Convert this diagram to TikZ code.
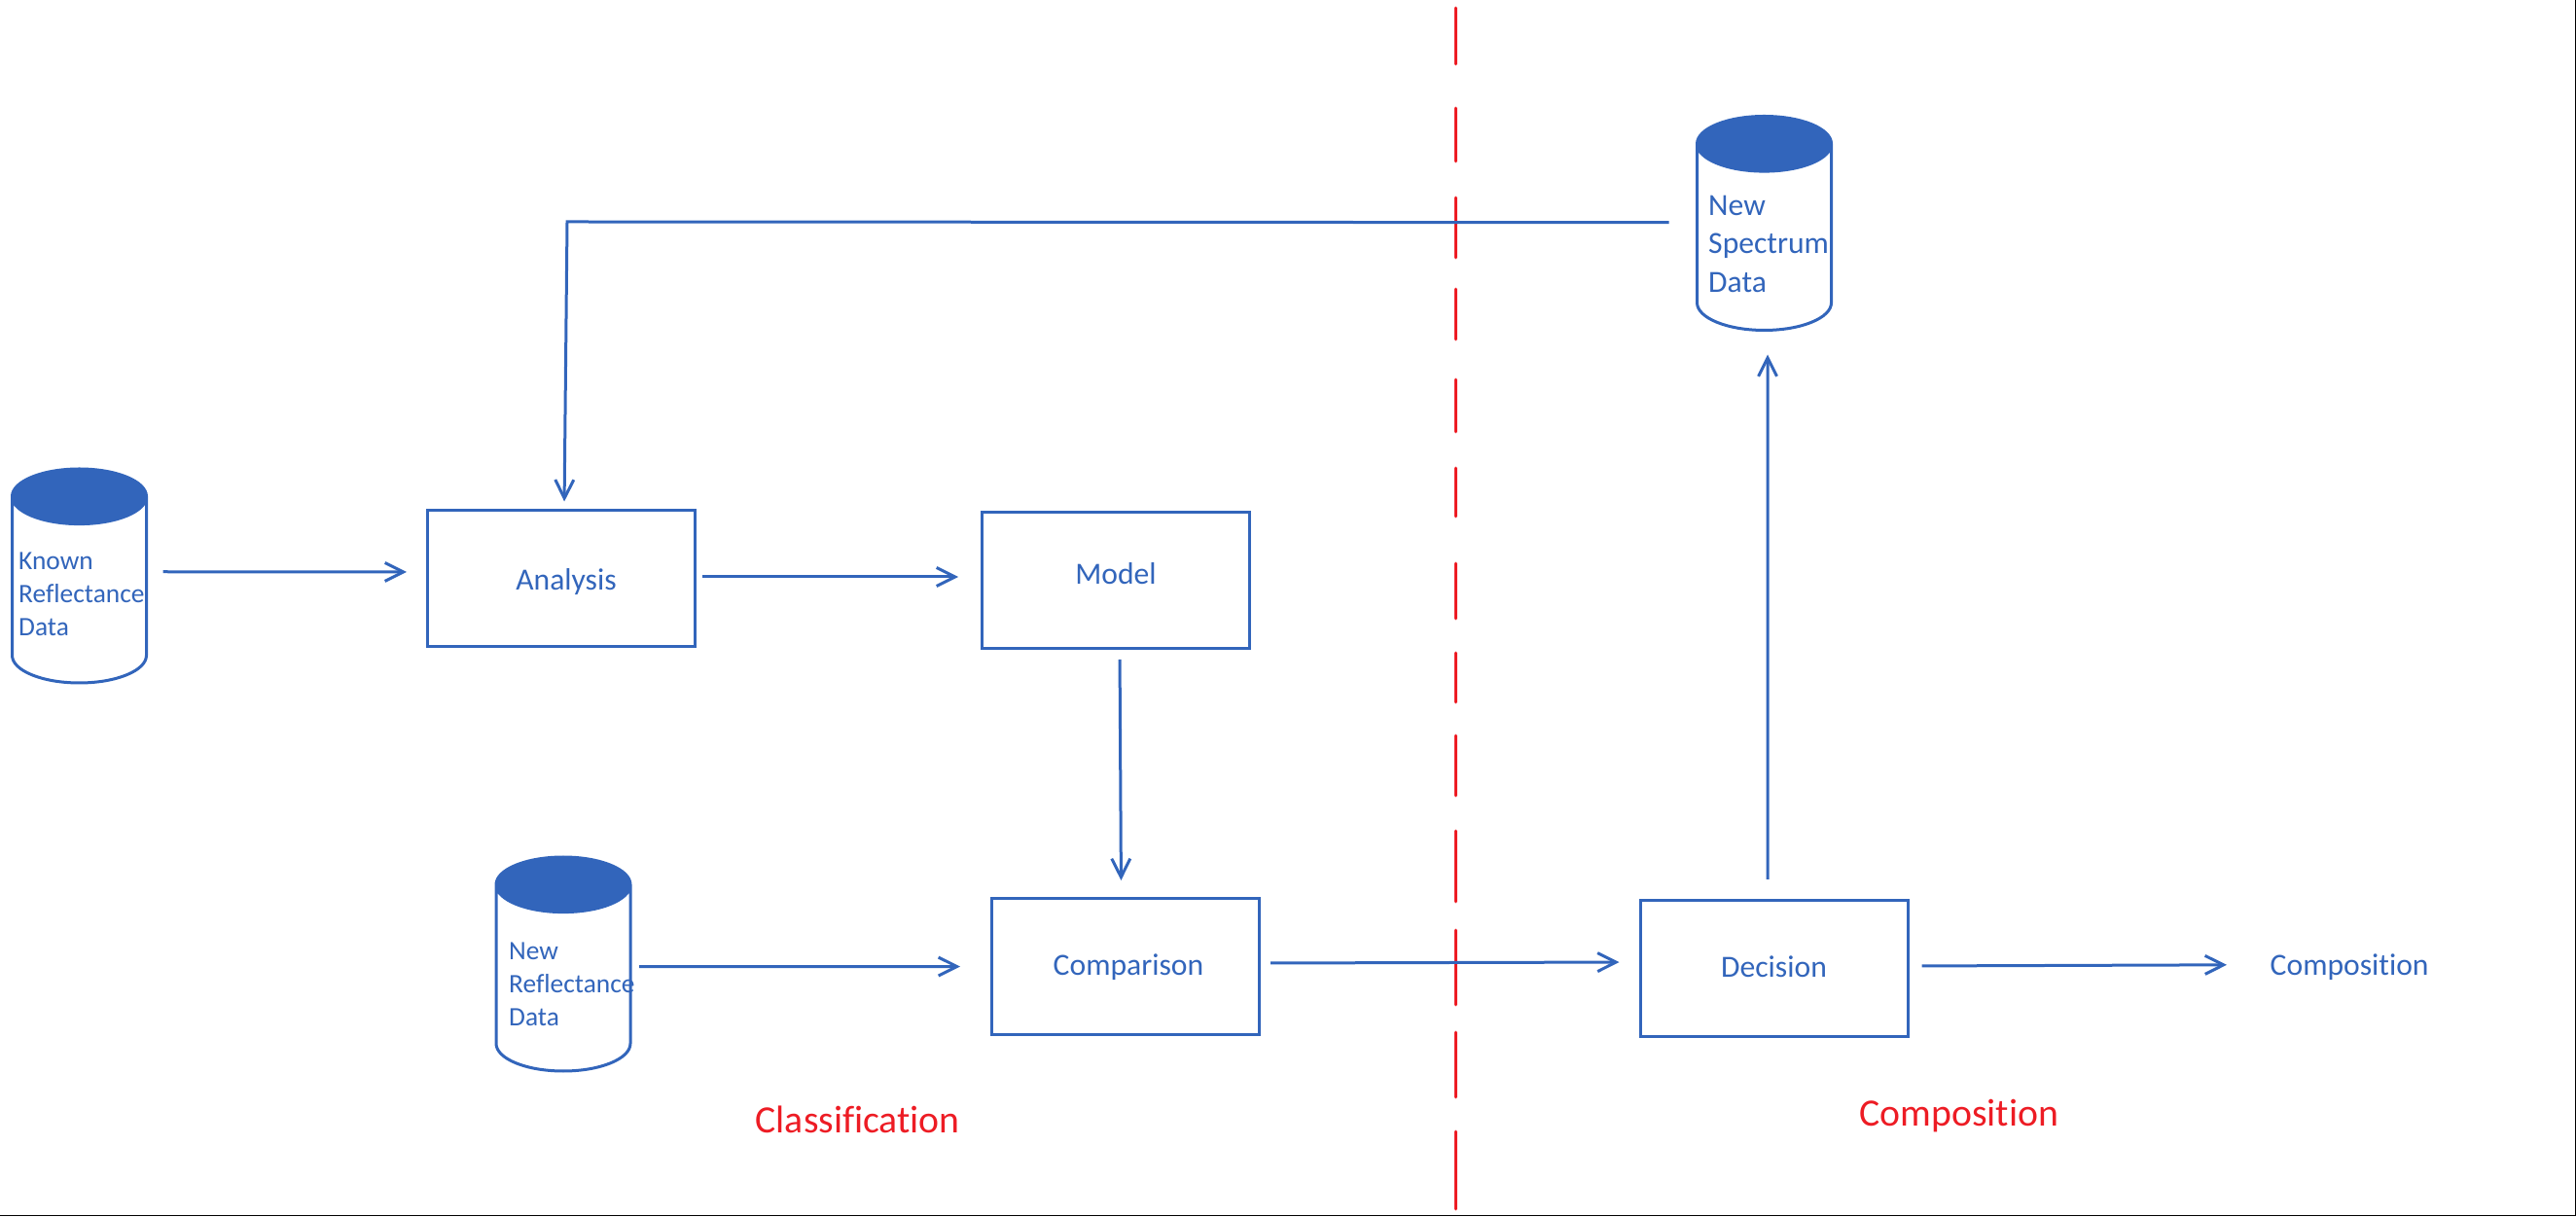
\documentclass[tikz,border=0pt]{standalone}
\usepackage{fontspec}
\setmainfont{Carlito}[Ligatures=NoCommon]
\usetikzlibrary{arrows.meta,shapes.geometric}
\definecolor{flowblue}{HTML}{3265BB}
\definecolor{splitred}{HTML}{ED1C24}

\begin{document}
\begin{tikzpicture}[
    boxn/.style={rectangle,draw=flowblue,line width=.03cm,minimum width=2.75cm,minimum height=1.4cm,inner sep=0pt,text=flowblue,font=\fontsize{9}{11}\selectfont,text height=.23cm,text depth=.05cm},
    db/.style={cylinder,shape border rotate=90,aspect=2.83,anchor=shape center,draw=flowblue,line width=.03cm,minimum width=1.38cm,minimum height=2.2cm,inner sep=.1cm,outer sep=0pt,cylinder uses custom fill,cylinder end fill=flowblue,cylinder body fill=white},
    dbt/.style={anchor=north west,align=left,inner sep=0pt,text=flowblue,font=\fontsize{7.8}{9.7}\selectfont},
    e/.style={-{Straight Barb[length=.19cm,width=.19cm]},line width=.03cm,flowblue},
    part/.style={anchor=base west,inner sep=0pt,text=splitred,font=\fontsize{11.3}{13}\selectfont},
    cut/.style={line width=.028cm,splitred,line cap=round}
  ]
    \useasboundingbox (0,0) rectangle (26.48,12.5);
    \draw[black,line width=.012cm] (0,.006) -- (26.474,.006) -- (26.474,12.5);
    \foreach \a/\b in {12.42/11.84,11.39/10.84,10.47/9.85,9.53/9.01,8.6/8.06,7.69/7.19,6.71/6.14,5.79/5.28,4.94/4.32,3.96/3.23,2.94/2.17,1.89/1.22,.87/.07} {\draw[cut] (14.965,\a)--(14.965,\b);}
    \node[db] (known) at (.815,6.58) {};
    \node[db] (newrefl) at (5.79,2.59) {};
    \node[db] (spectrum) at (18.135,10.205) {};
    \node[dbt] (knownt) at (.185,6.83) {Known\\Reflectance\\Data};
    \node[dbt] (newreflt) at (5.225,2.82) {New\\Reflectance\\Data};
    \node[dbt,font=\fontsize{9}{11.1}\selectfont] (spectrumt) at (17.555,10.49) {New\\Spectrum\\Data};
    \node[boxn,text depth=0pt] (analysis) at (5.77,6.55) {\hspace*{.1cm}Analysis};
    \node[boxn,text depth=.15cm] (model) at (11.47,6.535) {Model};
    \node[boxn,text depth=.06cm] (comparison) at (11.57,2.565) {\hspace*{.06cm}Comparison};
    \node[boxn] (decision) at (18.235,2.545) {Decision};
    \node[anchor=base west,inner sep=0pt,text=flowblue,font=\fontsize{9}{11}\selectfont] (result) at (23.33,2.48) {Composition};
    \node[part] (classlabel) at (7.76,.86) {Classification};
    \node[part] (complabel) at (19.11,.93) {Composition};
    \coordinate (corner) at (5.83,10.22);
    \draw[e,shorten <=.17cm,shorten >=.2cm] ([yshift=.265cm]known.east)--([yshift=.07cm]analysis.west);
    \draw[e,shorten <=.06cm,shorten >=.23cm] ([yshift=.02cm]analysis.east)--([yshift=.035cm]model.west);
    \draw[e,shorten <=.1cm,shorten >=.17cm] ([xshift=.04cm]model.south)--([xshift=-.045cm]comparison.north);
    \draw[e,shorten <=.09cm,shorten >=.31cm] ([yshift=.195cm]newrefl.east)--(comparison.west);
    \draw[e,shorten <=.1cm,shorten >=.2cm] ([yshift=.035cm]comparison.east)--([yshift=.065cm]decision.west);
    \draw[e,shorten <=.13cm,shorten >=.44cm] ([yshift=.025cm]decision.east)--([yshift=.02cm]result.west);
    \draw[e,shorten <=.2cm,shorten >=.25cm] ([xshift=-.065cm]decision.north)--([xshift=.035cm]spectrum.south);
    \draw[e,shorten <=.29cm,shorten >=.08cm] ([yshift=.23cm]spectrum.west)--(corner)--([xshift=.03cm]analysis.north);
\end{tikzpicture}
\end{document}
